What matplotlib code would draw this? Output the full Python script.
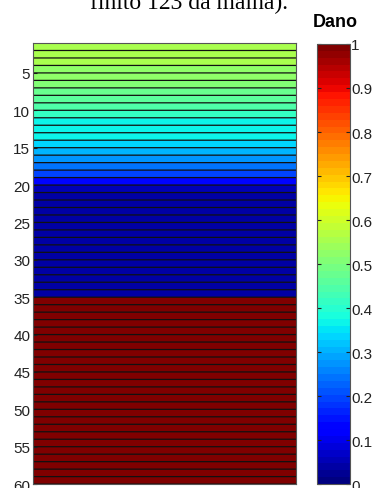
import numpy as np
import matplotlib
matplotlib.use("Agg")
from matplotlib import pyplot as plt

# damage value per element row (rows 1..59)
dano = [0.56, 0.56, 0.55, 0.53, 0.52, 0.50, 0.47, 0.46, 0.44, 0.41,
        0.37, 0.36, 0.36, 0.33, 0.30, 0.28, 0.24, 0.19, 0.13, 0.06] \
     + [0.04] * 14 + [1.0] * 25
y_edges = np.arange(1, 61)
x_edges = [0, 1]
yticks = [5, 10, 15, 20, 25, 30, 35, 40, 45, 50, 55, 60]
cbar_ticks = [0, 0.1, 0.2, 0.3, 0.4, 0.5, 0.6, 0.7, 0.8, 0.9, 1]

plt.rcParams['font.family'] = ['Liberation Sans', 'DejaVu Sans']

fig = plt.figure(figsize=(3.79, 4.89), dpi=100)
ax = fig.add_axes([0.087, 0.008, 0.694, 0.902])
cax = fig.add_axes([0.836, 0.008, 0.087, 0.900])

C = np.array(dano).reshape(-1, 1)
cmap = plt.get_cmap('jet', 64)
mesh = ax.pcolormesh(x_edges, y_edges, C, cmap=cmap, vmin=0, vmax=1)
# cell borders drawn as lines so none vanish
ax.hlines(y_edges, 0, 1, colors='#111111', linewidth=0.9, snap=False, antialiased=True)
ax.set_ylim(60, 1)
ax.set_xlim(0, 1)
ax.set_xticks([])
ax.set_yticks(yticks)
ax.tick_params(axis='y', direction='in', length=3, labelsize=11, colors='#222222', pad=2)
for s in ax.spines.values():
    s.set_color('#555555')
    s.set_linewidth(0.8)

cb = fig.colorbar(mesh, cax=cax)
cb.set_ticks(cbar_ticks)
cb.set_ticklabels(['0', '0.1', '0.2', '0.3', '0.4', '0.5', '0.6', '0.7', '0.8', '0.9', '1'])
cax.tick_params(direction='in', length=3, labelsize=11, left=True, right=True, pad=1,
                colors='#222222')
cb.outline.set_edgecolor('#555555')
cb.outline.set_linewidth(0.8)
fig.text(0.884, 0.945, 'Dano', ha='center', va='baseline', fontsize=13, fontweight='bold')

fig.text(0.50, 0.982, 'finito 123 da malha).', ha='center', va='baseline',
         fontsize=17, family=['Liberation Serif', 'DejaVu Serif'])

fig.savefig('out.png', dpi=100)
